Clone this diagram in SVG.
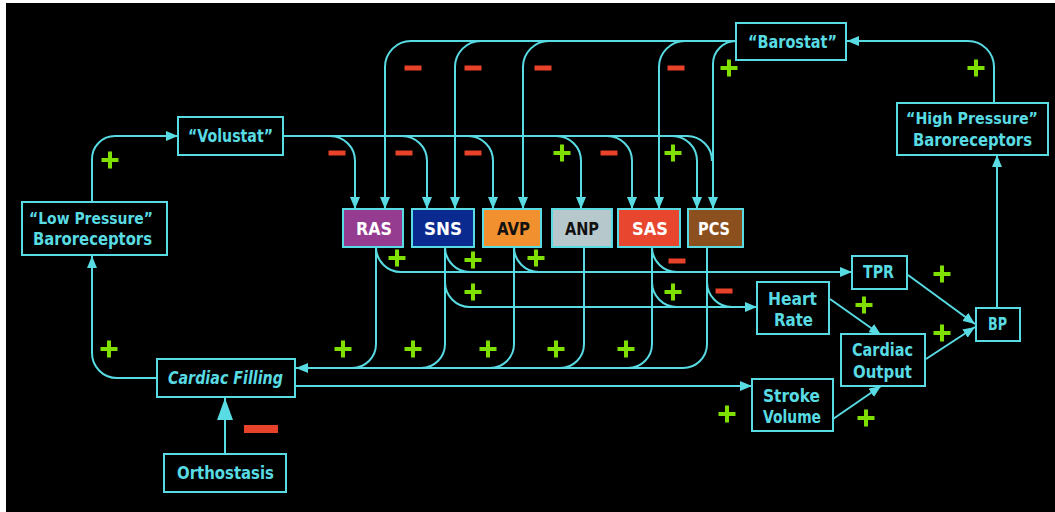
<svg xmlns="http://www.w3.org/2000/svg" xmlns:xlink="http://www.w3.org/1999/xlink" width="1055" height="512" viewBox="0 0 1055 512">
<style>
.bx{fill:#000;stroke:#58dbe3;stroke-width:2}
.t{font-family:"DejaVu Sans","Liberation Sans",sans-serif;font-size:17px;font-weight:bold;fill:#58dbe3;text-anchor:middle}
.tw{fill:#fff}
.tk{fill:#111}
.c{fill:none;stroke:#58dbe3;stroke-width:2}
.a{marker-end:url(#ar)}
</style>
<defs>
<marker id="ar" markerUnits="userSpaceOnUse" markerWidth="12" markerHeight="10" refX="12" refY="5" orient="auto"><path d="M0,0 L12,5 L0,10 z" fill="#58dbe3"/></marker>
<marker id="big" markerUnits="userSpaceOnUse" markerWidth="22" markerHeight="16" refX="22" refY="8" orient="auto"><path d="M0,0 L22,8 L0,16 z" fill="#58dbe3"/></marker>
<path id="plus" d="M-8.5,0 H8.5 M0,-8.5 V8.5" stroke="#7fe000" stroke-width="4" fill="none"/>
<rect id="minus" x="-8.5" y="-2.5" width="17" height="5" fill="#e8432a"/>
</defs>
<rect x="0" y="0" width="1055" height="512" fill="#fff"/>
<rect x="6" y="3" width="1049" height="509" fill="#000"/>

<g id="connectors">
<path class="c a" d="M92,202 V159 A23,23 0 0 1 115,136 H178"/>
<path class="c" d="M283,136 H687 A25,25 0 0 1 712,161"/>
<path class="c a" d="M330,136 A25,25 0 0 1 355,161 V209"/>
<path class="c a" d="M402,136 A25,25 0 0 1 427,161 V209"/>
<path class="c a" d="M468,136 A25,25 0 0 1 493,161 V209"/>
<path class="c a" d="M556,136 A25,25 0 0 1 581,161 V209"/>
<path class="c a" d="M607,136 A25,25 0 0 1 632,161 V209"/>
<path class="c a" d="M672,136 A25,25 0 0 1 697,161 V209"/>
<path class="c a" d="M736,41 H411 A26,26 0 0 0 385,67 V209"/>
<path class="c a" d="M481,41 A26,26 0 0 0 455,67 V209"/>
<path class="c a" d="M549,41 A26,26 0 0 0 523,67 V209"/>
<path class="c a" d="M685,41 A26,26 0 0 0 659,67 V209"/>
<path class="c a" d="M736,41 A23,23 0 0 0 713,64 V209"/>
<path class="c a" d="M994,103 V67 A26,26 0 0 0 968,41 H847"/>
<path class="c a" d="M997,308 V155"/>
<path class="c a" d="M707,247 V344 A24,24 0 0 1 683,368 H296"/>
<path class="c" d="M376,247 V344 A24,24 0 0 1 352,368"/>
<path class="c" d="M445,247 V344 A24,24 0 0 1 421,368"/>
<path class="c" d="M514,247 V344 A24,24 0 0 1 490,368"/>
<path class="c" d="M584,247 V344 A24,24 0 0 1 560,368"/>
<path class="c" d="M652,247 V344 A24,24 0 0 1 628,368"/>
<path class="c a" d="M376,247 A25,25 0 0 0 401,272 H852"/>
<path class="c" d="M445,247 A25,25 0 0 0 470,272"/>
<path class="c" d="M514,247 A25,25 0 0 0 539,272"/>
<path class="c" d="M652,247 A25,25 0 0 0 677,272"/>
<path class="c a" d="M445,282 A25,25 0 0 0 470,307 H757"/>
<path class="c" d="M652,282 A25,25 0 0 0 677,307"/>
<path class="c" d="M707,282 A25,25 0 0 0 732,307"/>
<path class="c a" d="M295,386 H752"/>
<path class="c a" d="M157,378 H117 A25,25 0 0 1 92,353 V256"/>
<path class="c" d="M225,454 V398" stroke-width="4" marker-end="url(#big)"/>
<path class="c a" d="M908,275 L975,324"/>
<path class="c a" d="M830,299 L881,335"/>
<path class="c a" d="M926,359 L975,327"/>
<path class="c a" d="M833,419 L881,386"/>
</g>

<g id="signs">
<use href="#plus" x="110" y="160"/>
<use href="#plus" x="976" y="68"/>
<use href="#plus" x="729" y="68"/>
<use href="#plus" x="562" y="153"/>
<use href="#plus" x="673" y="153"/>
<use href="#plus" x="397" y="258"/>
<use href="#plus" x="473" y="260"/>
<use href="#plus" x="536" y="258"/>
<use href="#plus" x="473" y="292"/>
<use href="#plus" x="673" y="292"/>
<use href="#plus" x="343" y="349"/>
<use href="#plus" x="413" y="349"/>
<use href="#plus" x="488" y="349"/>
<use href="#plus" x="556" y="349"/>
<use href="#plus" x="626" y="349"/>
<use href="#plus" x="109" y="349"/>
<use href="#plus" x="942" y="274"/>
<use href="#plus" x="864" y="305"/>
<use href="#plus" x="942" y="333"/>
<use href="#plus" x="727" y="414"/>
<use href="#plus" x="866" y="418"/>
<use href="#minus" x="413" y="68"/>
<use href="#minus" x="473" y="68"/>
<use href="#minus" x="543" y="68"/>
<use href="#minus" x="676" y="68"/>
<use href="#minus" x="337" y="153"/>
<use href="#minus" x="404" y="153"/>
<use href="#minus" x="473" y="153"/>
<use href="#minus" x="609" y="153"/>
<use href="#minus" x="677" y="261"/>
<use href="#minus" x="724" y="291"/>
<rect x="244" y="425" width="34" height="8" fill="#e8432a"/>
</g>

<g id="volustat"><rect class="bx" x="178" y="117" width="105" height="38"/><text class="t" x="230.5" y="142" textLength="85" lengthAdjust="spacingAndGlyphs">“Volustat”</text></g>
<g id="lowpressure"><rect class="bx" x="22" y="202" width="145" height="53"/><text class="t" x="91" y="224" style="font-size:15.5px" textLength="124" lengthAdjust="spacingAndGlyphs">“Low Pressure”</text><text class="t" x="92.5" y="245" textLength="119" lengthAdjust="spacingAndGlyphs">Baroreceptors</text></g>
<g id="barostat"><rect class="bx" x="736" y="23" width="110" height="37"/><text class="t" x="792.5" y="48" textLength="89" lengthAdjust="spacingAndGlyphs">“Barostat”</text></g>
<g id="highpressure"><rect class="bx" x="897" y="103" width="151" height="52"/><text class="t" x="972" y="124" style="font-size:15px" textLength="132" lengthAdjust="spacingAndGlyphs">“High Pressure”</text><text class="t" x="972.5" y="146" textLength="119" lengthAdjust="spacingAndGlyphs">Baroreceptors</text></g>
<g id="ras"><rect class="bx" x="343" y="209" width="60" height="38" style="fill:#953c91"/><text class="t tw" x="374" y="235" textLength="36" lengthAdjust="spacingAndGlyphs">RAS</text></g>
<g id="sns"><rect class="bx" x="412" y="209" width="62" height="38" style="fill:#0b2a8f"/><text class="t tw" x="443" y="235" textLength="38" lengthAdjust="spacingAndGlyphs">SNS</text></g>
<g id="avp"><rect class="bx" x="483" y="209" width="58" height="38" style="fill:#f0902f"/><text class="t tk" x="513.5" y="235" textLength="33" lengthAdjust="spacingAndGlyphs">AVP</text></g>
<g id="anp"><rect class="bx" x="552" y="209" width="60" height="38" style="fill:#b7c8cc"/><text class="t tk" x="582" y="235" textLength="34" lengthAdjust="spacingAndGlyphs">ANP</text></g>
<g id="sas"><rect class="bx" x="618" y="209" width="62" height="38" style="fill:#e9462f"/><text class="t tw" x="650" y="235" textLength="36" lengthAdjust="spacingAndGlyphs">SAS</text></g>
<g id="pcs"><rect class="bx" x="688" y="209" width="55" height="38" style="fill:#8c4f1e"/><text class="t tw" x="714" y="235" textLength="32" lengthAdjust="spacingAndGlyphs">PCS</text></g>
<g id="cardiacfilling"><rect class="bx" x="157" y="359" width="138" height="38"/><text class="t" x="225.5" y="384" font-style="italic" textLength="115" lengthAdjust="spacingAndGlyphs">Cardiac Filling</text></g>
<g id="orthostasis"><rect class="bx" x="164" y="454" width="122" height="38"/><text class="t" x="225.5" y="479" textLength="97" lengthAdjust="spacingAndGlyphs">Orthostasis</text></g>
<g id="tpr"><rect class="bx" x="852" y="256" width="55" height="33"/><text class="t" x="878.5" y="278" textLength="31" lengthAdjust="spacingAndGlyphs">TPR</text></g>
<g id="heartrate"><rect class="bx" x="757" y="282" width="72" height="52"/><text class="t" x="792.5" y="305" textLength="49" lengthAdjust="spacingAndGlyphs">Heart</text><text class="t" x="793.5" y="326" textLength="39" lengthAdjust="spacingAndGlyphs">Rate</text></g>
<g id="cardiacoutput"><rect class="bx" x="841" y="334" width="84" height="52"/><text class="t" x="882.5" y="356" textLength="61" lengthAdjust="spacingAndGlyphs">Cardiac</text><text class="t" x="882.5" y="378" textLength="59" lengthAdjust="spacingAndGlyphs">Output</text></g>
<g id="strokevolume"><rect class="bx" x="752" y="379" width="81" height="52"/><text class="t" x="791.5" y="402" textLength="57" lengthAdjust="spacingAndGlyphs">Stroke</text><text class="t" x="792" y="423" textLength="58" lengthAdjust="spacingAndGlyphs">Volume</text></g>
<g id="bp"><rect class="bx" x="976" y="308" width="44" height="33"/><text class="t" x="997.5" y="330" textLength="19" lengthAdjust="spacingAndGlyphs">BP</text></g>
</svg>
